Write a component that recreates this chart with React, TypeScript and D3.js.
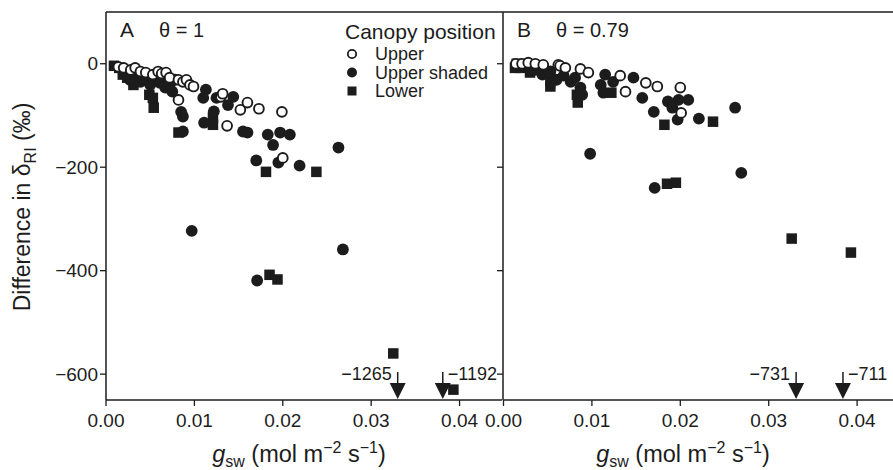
import React from "react";
import * as d3 from "d3";

// ---------- data ----------
const xTickValues = [0, 0.01, 0.02, 0.03, 0.04];
const xTickLabels = ["0.00", "0.01", "0.02", "0.03", "0.04"];
const yTickValues = [0, -200, -400, -600];
const yTickLabels = ["0", "\u2212200", "\u2212400", "\u2212600"];
const seriesNames = ["Upper", "Upper shaded", "Lower"];

// Panel A (theta = 1)
const upperA: [number, number][] = [
  [0.0014, -6], [0.002, -8], [0.0028, -12], [0.0033, -8], [0.0039, -15], [0.0045, -17],
  [0.0053, -21], [0.0059, -15], [0.0063, -19], [0.0068, -17], [0.0072, -27], [0.0082, -31],
  [0.0087, -35], [0.0091, -31], [0.0095, -41], [0.0099, -44], [0.0082, -70], [0.013, -64],
  [0.0132, -58], [0.0152, -89], [0.016, -75], [0.0173, -87], [0.0199, -93], [0.0137, -120],
  [0.02, -182],
];
const shadedA: [number, number][] = [
  [0.0022, -21], [0.0027, -31], [0.0033, -27], [0.0039, -35], [0.0044, -31], [0.005, -41],
  [0.0055, -31], [0.0061, -37], [0.0067, -46], [0.0072, -41], [0.0078, -31], [0.0075, -54],
  [0.0113, -50], [0.011, -66], [0.0125, -66], [0.0144, -64], [0.0085, -93], [0.0087, -102],
  [0.0111, -114], [0.0087, -131], [0.0155, -131], [0.016, -133], [0.0183, -137], [0.0197, -133],
  [0.0208, -137], [0.0189, -157], [0.017, -187], [0.0195, -191], [0.0219, -197], [0.0263, -162],
  [0.0097, -323], [0.0268, -359], [0.0171, -419], [0.0122, -92], [0.0138, -80],
];
const lowerA: [number, number][] = [
  [0.0009, -4], [0.0015, -8], [0.0019, -21], [0.0024, -27], [0.0031, -41], [0.0039, -31],
  [0.0049, -60], [0.0053, -66], [0.0054, -85], [0.0061, -27], [0.0082, -133], [0.0121, -104],
  [0.0121, -118], [0.0181, -209], [0.0238, -209], [0.0185, -408], [0.0194, -417],
  [0.0325, -560], [0.0393, -630],
];
const arrowXA = [0.033, 0.0381];
const arrowLabelsA = ["\u22121265", "\u22121192"];

// Panel B (theta = 0.79)
const upperB: [number, number][] = [
  [0.0014, 0], [0.0021, 0], [0.0028, 2], [0.0036, 0], [0.0045, -2], [0.0062, -2],
  [0.0064, -4], [0.007, -8], [0.0087, -10], [0.0096, -17], [0.0132, -23], [0.0138, -54],
  [0.0161, -37], [0.0174, -44], [0.02, -46], [0.0201, -95],
];
const shadedB: [number, number][] = [
  [0.0036, -12], [0.0044, -21], [0.0053, -15], [0.006, -31], [0.0068, -23], [0.0076, -35],
  [0.0081, -27], [0.0087, -46], [0.0089, -60], [0.011, -41], [0.0113, -56], [0.0115, -21],
  [0.0124, -35], [0.0147, -27], [0.0157, -66], [0.017, -93], [0.0186, -73], [0.0198, -70],
  [0.0209, -70], [0.0191, -85], [0.0197, -108], [0.0221, -106], [0.0262, -85],
  [0.0098, -174], [0.0171, -240], [0.0269, -211],
];
const lowerB: [number, number][] = [
  [0.0013, -8], [0.0015, 0], [0.0019, -8], [0.003, -17], [0.0053, -44], [0.0053, -35],
  [0.0083, -60], [0.0084, -75], [0.0122, -56], [0.0182, -118], [0.0237, -112],
  [0.0185, -232], [0.0195, -230], [0.0326, -338], [0.0393, -365],
];
const arrowXB = [0.0331, 0.0384];
const arrowLabelsB = ["\u2212731", "\u2212711"];

// ---------- layout ----------
const W = 893;
const H = 470;
const TOP = 12;
const BOTTOM = 400;
const FONT = "'Liberation Sans', Arial, Helvetica, sans-serif";
const INK = "#1c1c1c";

const y = d3.scaleLinear().domain([-650, 100]).range([BOTTOM, TOP]);
const xA = d3.scaleLinear().domain([0, 0.0448]).range([106, 502]);
const xB = d3.scaleLinear().domain([0, 0.04406]).range([503.5, 893]);

type P = [number, number][];

function Markers({ x, upper, shaded, lower }: { x: d3.ScaleLinear<number, number>; upper: P; shaded: P; lower: P }) {
  const s = 10.5;
  return (
    <g>
      {lower.map((d, i) => (
        <rect key={"l" + i} x={x(d[0]) - s / 2} y={y(d[1]) - s / 2} width={s} height={s} fill={INK} />
      ))}
      {shaded.map((d, i) => (
        <circle key={"s" + i} cx={x(d[0])} cy={y(d[1])} r={5.9} fill={INK} />
      ))}
      {upper.map((d, i) => (
        <circle key={"u" + i} cx={x(d[0])} cy={y(d[1])} r={4.9} fill="#fff" stroke={INK} strokeWidth={1.9} />
      ))}
    </g>
  );
}

function Arrows({ x, xs, labels }: { x: d3.ScaleLinear<number, number>; xs: number[]; labels: string[] }) {
  return (
    <g>
      {xs.map((v, i) => {
        const cx = x(v);
        const left = i === 0;
        return (
          <g key={i}>
            <line x1={cx} x2={cx} y1={372} y2={385} stroke={INK} strokeWidth={1.5} />
            <path d={`M${cx - 8},383 L${cx + 8},383 L${cx},399 Z`} fill={INK} />
            <text
              x={left ? cx - 6 : cx + 5}
              y={380}
              fontSize={18}
              textAnchor={left ? "end" : "start"}
              fill={INK}
            >
              {labels[i]}
            </text>
          </g>
        );
      })}
    </g>
  );
}

function XAxis({ x, titleX }: { x: d3.ScaleLinear<number, number>; titleX: number }) {
  const [r0, r1] = x.range();
  return (
    <g>
      <line x1={r0} x2={r1} y1={BOTTOM} y2={BOTTOM} stroke={INK} strokeWidth={1.5} />
      {xTickValues.map((v, i) => (
        <g key={i}>
          <line x1={x(v)} x2={x(v)} y1={BOTTOM} y2={BOTTOM + 6} stroke={INK} strokeWidth={1.3} />
          <text x={x(v)} y={427} fontSize={19} textAnchor="middle" fill={INK}>
            {xTickLabels[i]}
          </text>
        </g>
      ))}
      <text x={titleX} y={462} fontSize={23.5} textAnchor="middle" fill={INK}>
        <tspan fontStyle="italic">g</tspan>
        <tspan fontSize={16} dy={5}>sw</tspan>
        <tspan dy={-5}> (mol m</tspan>
        <tspan fontSize={16} dy={-9}>{"\u22122"}</tspan>
        <tspan dy={9}> s</tspan>
        <tspan fontSize={16} dy={-9}>{"\u22121"}</tspan>
        <tspan dy={9}>)</tspan>
      </text>
    </g>
  );
}

function YAxis({ x0, labels }: { x0: number; labels: boolean }) {
  return (
    <g>
      <line x1={x0} x2={x0} y1={TOP} y2={BOTTOM} stroke={INK} strokeWidth={1.5} />
      {yTickValues.map((v, i) => (
        <g key={i}>
          <line x1={x0 - 6} x2={x0} y1={y(v)} y2={y(v)} stroke={INK} strokeWidth={1.3} />
          {labels && (
            <text x={x0 - 8} y={y(v) + 6.5} fontSize={19} textAnchor="end" fill={INK}>
              {yTickLabels[i]}
            </text>
          )}
        </g>
      ))}
    </g>
  );
}

export default function App() {
  const legendRows = [
    { name: seriesNames[0], cy: 54 },
    { name: seriesNames[1], cy: 72.5 },
    { name: seriesNames[2], cy: 91 },
  ];
  return (
    <svg
      width={W}
      height={H}
      viewBox={`0 0 ${W} ${H}`}
      style={{ position: "absolute", left: 0, top: 0, background: "#fff" }}
      fontFamily={FONT}
    >
      <rect x={0} y={0} width={W} height={H} fill="#fff" />
      {/* frames */}
      <line x1={106} x2={893} y1={TOP} y2={TOP} stroke={INK} strokeWidth={1.5} />
      <YAxis x0={106} labels={true} />
      <YAxis x0={503} labels={false} />
      <XAxis x={xA} titleX={299} />
      <XAxis x={xB} titleX={683} />

      {/* panel labels */}
      <text x={120} y={37} fontSize={21} fill={INK}>A</text>
      <text x={159} y={37} fontSize={20} fill={INK}>{"\u03b8 = 1"}</text>
      <text x={517} y={37} fontSize={21} fill={INK}>B</text>
      <text x={556} y={37} fontSize={20} fill={INK}>{"\u03b8 = 0.79"}</text>

      {/* legend */}
      <text x={345} y={39} fontSize={21} fill={INK}>Canopy position</text>
      {legendRows.map((r, i) => (
        <g key={i}>
          {i === 0 && <circle cx={352} cy={r.cy} r={4.2} fill="#fff" stroke={INK} strokeWidth={1.8} />}
          {i === 1 && <circle cx={352} cy={r.cy} r={5} fill={INK} />}
          {i === 2 && <rect x={347.5} y={r.cy - 4.5} width={9} height={9} fill={INK} />}
          <text x={375} y={r.cy + 6} fontSize={18} fill={INK}>{r.name}</text>
        </g>
      ))}

      <Markers x={xA} upper={upperA} shaded={shadedA} lower={lowerA} />
      <Markers x={xB} upper={upperB} shaded={shadedB} lower={lowerB} />
      <Arrows x={xA} xs={arrowXA} labels={arrowLabelsA} />
      <Arrows x={xB} xs={arrowXB} labels={arrowLabelsB} />

      {/* y title */}
      <text
        transform="translate(30,207) rotate(-90)"
        fontSize={23}
        textAnchor="middle"
        fill={INK}
      >
        Difference in δ
        <tspan fontSize={16} dy={6}>RI</tspan>
        <tspan dy={-6}> (‰)</tspan>
      </text>
    </svg>
  );
}
